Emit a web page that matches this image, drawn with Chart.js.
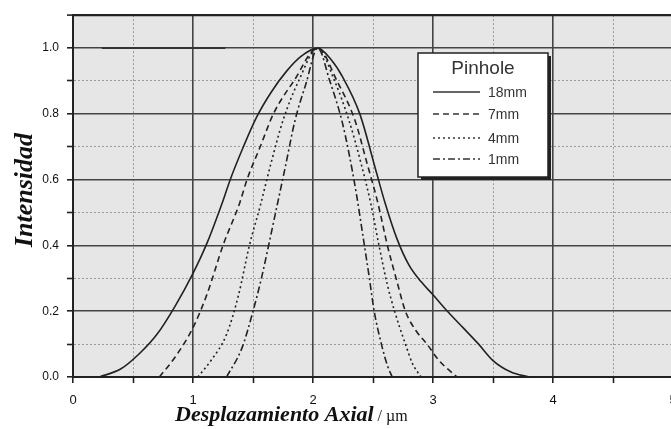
<!DOCTYPE html>
<html>
<head>
<meta charset="utf-8">
<script src="https://cdn.jsdelivr.net/npm/chart.js@4.4.1/dist/chart.umd.min.js"></script>
<style>
  html, body { margin: 0; padding: 0; background: #fff; overflow: hidden; }
  #wrap { width: 700px; height: 429px; }
</style>
</head>
<body>
<div id="wrap"><canvas id="c" width="700" height="429"></canvas></div>
<script>
// pinhole sizes (legend order)
const pinholes = ['18mm', '7mm', '4mm', '1mm'];

// axial displacement (µm) and normalised intensity for each pinhole
const x18 = [0.22, 0.4, 0.55, 0.7, 0.85, 1.0, 1.12, 1.25, 1.31, 1.42, 1.53, 1.65, 1.78, 1.9, 2.04, 2.15, 2.25, 2.39, 2.53, 2.6, 2.7, 2.8, 2.9, 3.0, 3.12, 3.25, 3.38, 3.5, 3.65, 3.8];
const y18 = [0, 0.025, 0.07, 0.13, 0.215, 0.315, 0.41, 0.536, 0.6, 0.7, 0.79, 0.865, 0.93, 0.975, 1.0, 0.965, 0.91, 0.8, 0.62, 0.53, 0.42, 0.34, 0.29, 0.25, 0.2, 0.15, 0.1, 0.05, 0.015, 0];

const x7 = [0.72, 0.85, 1.0, 1.12, 1.25, 1.39, 1.45, 1.56, 1.67, 1.84, 2.04, 2.2, 2.35, 2.45, 2.54, 2.62, 2.7, 2.77, 2.86, 2.95, 3.05, 3.2];
const y7 = [0, 0.06, 0.15, 0.255, 0.4, 0.53, 0.6, 0.7, 0.8, 0.9, 1.0, 0.9, 0.78, 0.65, 0.53, 0.4, 0.29, 0.2, 0.14, 0.1, 0.05, 0];

const x4 = [1.04, 1.15, 1.28, 1.38, 1.47, 1.56, 1.65, 1.75, 1.88, 2.04, 2.18, 2.3, 2.4, 2.48, 2.55, 2.62, 2.68, 2.77, 2.83, 2.9];
const y4 = [0, 0.05, 0.13, 0.25, 0.4, 0.52, 0.65, 0.78, 0.9, 1.0, 0.9, 0.78, 0.65, 0.53, 0.4, 0.28, 0.2, 0.1, 0.04, 0];

const x1 = [1.28, 1.41, 1.5, 1.57, 1.63, 1.7, 1.77, 1.85, 1.94, 2.04, 2.14, 2.24, 2.3, 2.36, 2.42, 2.47, 2.51, 2.57, 2.62, 2.66];
const y1 = [0, 0.09, 0.2, 0.3, 0.4, 0.52, 0.64, 0.78, 0.89, 1.0, 0.9, 0.78, 0.68, 0.56, 0.42, 0.3, 0.2, 0.1, 0.035, 0];

// short reference segment at full intensity
const xRef = [0.24, 1.27];
const yRef = [1.0, 1.0];

const dashes = [[], [6, 4], [2, 3], [7, 3, 2, 3]];

const toPoints = (xs, ys) => xs.map((x, i) => ({ x: x, y: ys[i] }));

const series = [[x18, y18], [x7, y7], [x4, y4], [x1, y1]];

const datasets = series.map(([xs, ys], i) => ({
  label: pinholes[i],
  data: toPoints(xs, ys),
  borderColor: '#222',
  borderWidth: 1.6,
  borderDash: dashes[i],
  pointRadius: 0,
  cubicInterpolationMode: 'monotone',
  fill: false,
}));

datasets.push({
  label: '',
  data: toPoints(xRef, yRef),
  borderColor: '#333',
  borderWidth: 2,
  pointRadius: 0,
});

const plotBg = {
  id: 'plotBg',
  beforeDraw(chart) {
    const { ctx, chartArea: a } = chart;
    ctx.save();
    ctx.fillStyle = '#e6e6e6';
    ctx.fillRect(a.left, a.top, a.right - a.left, a.bottom - a.top);
    ctx.restore();
  }
};

const axisTitles = {
  id: 'axisTitles',
  afterDraw(chart) {
    const { ctx, chartArea: a } = chart;
    ctx.save();
    ctx.fillStyle = '#111';
    // y title
    ctx.font = 'italic bold 26px "Liberation Serif"';
    ctx.textAlign = 'center';
    ctx.textBaseline = 'middle';
    ctx.translate(25, (a.top + a.bottom) / 2 - 6);
    ctx.rotate(-Math.PI / 2);
    ctx.fillText('Intensidad', 0, 0);
    ctx.restore();

    // x title: bold italic name + plain unit
    ctx.save();
    ctx.fillStyle = '#111';
    ctx.textAlign = 'left';
    ctx.textBaseline = 'alphabetic';
    const x0 = 175, base = 421;
    ctx.font = 'italic bold 22px "Liberation Serif"';
    const name = 'Desplazamiento Axial';
    ctx.fillText(name, x0, base);
    const w = ctx.measureText(name).width;
    ctx.font = '16px "Liberation Serif"';
    ctx.fillText(' / µm', x0 + w, base);
    ctx.restore();
  }
};

const legendBox = {
  id: 'legendBox',
  afterDraw(chart) {
    const { ctx } = chart;
    const bx = 418, by = 53, bw = 130, bh = 124;
    ctx.save();
    // shadow
    ctx.fillStyle = '#222';
    ctx.fillRect(bx + 3, by + 3, bw, bh);
    ctx.fillStyle = '#fff';
    ctx.fillRect(bx, by, bw, bh);
    ctx.strokeStyle = '#222';
    ctx.lineWidth = 1.5;
    ctx.strokeRect(bx, by, bw, bh);

    ctx.fillStyle = '#333';
    ctx.font = '19px "Liberation Sans"';
    ctx.textAlign = 'center';
    ctx.textBaseline = 'middle';
    ctx.fillText('Pinhole', bx + bw / 2, by + 16);

    ctx.font = '14px "Liberation Sans"';
    ctx.textAlign = 'left';
    const rows = [39, 61, 85, 106];
    chart.data.datasets.slice(0, pinholes.length).forEach((ds, i) => {
      const y = by + rows[i];
      ctx.beginPath();
      ctx.setLineDash(ds.borderDash);
      ctx.strokeStyle = '#333';
      ctx.lineWidth = 1.4;
      ctx.moveTo(bx + 15, y);
      ctx.lineTo(bx + 62, y);
      ctx.stroke();
      ctx.setLineDash([]);
      ctx.fillText(ds.label, bx + 70, y + 1);
    });
    ctx.restore();
  }
};

const yMajor = (v) => Math.round(v * 10) % 2 === 0;
const xMajor = (v) => Math.round(v * 2) % 2 === 0;

new Chart(document.getElementById('c'), {
  type: 'line',
  data: { datasets: datasets },
  options: {
    responsive: false,
    animation: false,
    devicePixelRatio: 1,
    layout: { padding: { top: 13, right: 27, left: 0, bottom: 0 } },
    plugins: { legend: { display: false }, tooltip: { enabled: false } },
    scales: {
      x: {
        type: 'linear',
        min: 0,
        max: 5,
        afterFit: (s) => { s.height = 52; },
        ticks: {
          stepSize: 0.5,
          autoSkip: false,
          maxRotation: 0,
          padding: 10,
          color: '#111',
          font: { family: 'Liberation Sans', size: 13 },
          callback: (v) => (xMajor(v) ? String(Math.round(v)) : ''),
        },
        grid: {
          tickLength: 6,
          color: (c) => (c.tick && xMajor(c.tick.value) ? '#444' : '#9a9a9a'),
          lineWidth: (c) => (c.tick && xMajor(c.tick.value) ? 1.6 : 1),
          tickColor: '#222',
          tickWidth: 1.6,
        },
        border: {
          display: true,
          color: '#222',
          width: 2,
          dash: (c) => (c.tick && !xMajor(c.tick.value) ? [2, 2] : []),
        },
      },
      y: {
        type: 'linear',
        min: 0,
        max: 1.1,
        afterFit: (s) => { s.width = 73; },
        ticks: {
          stepSize: 0.1,
          autoSkip: false,
          padding: 8,
          color: '#111',
          font: { family: 'Liberation Sans', size: 12 },
          callback: (v) => {
            const k = Math.round(v * 10);
            return k % 2 === 0 && k <= 10 ? (k / 10).toFixed(1) : '';
          },
        },
        grid: {
          tickLength: 6,
          color: (c) => {
            if (!c.tick) return '#444';
            if (Math.round(c.tick.value * 10) === 11) return '#222';
            return yMajor(c.tick.value) ? '#444' : '#9a9a9a';
          },
          lineWidth: (c) => {
            if (!c.tick) return 1;
            if (Math.round(c.tick.value * 10) === 11) return 2.2;
            return yMajor(c.tick.value) ? 1.6 : 1;
          },
          tickColor: '#222',
          tickWidth: 1.6,
        },
        border: {
          display: true,
          color: '#222',
          width: 2,
          dash: (c) => {
            if (!c.tick) return [];
            if (Math.round(c.tick.value * 10) === 11) return [];
            return yMajor(c.tick.value) ? [] : [2, 2];
          },
        },
      },
    },
  },
  plugins: [plotBg, axisTitles, legendBox],
});
</script>
</body>
</html>
